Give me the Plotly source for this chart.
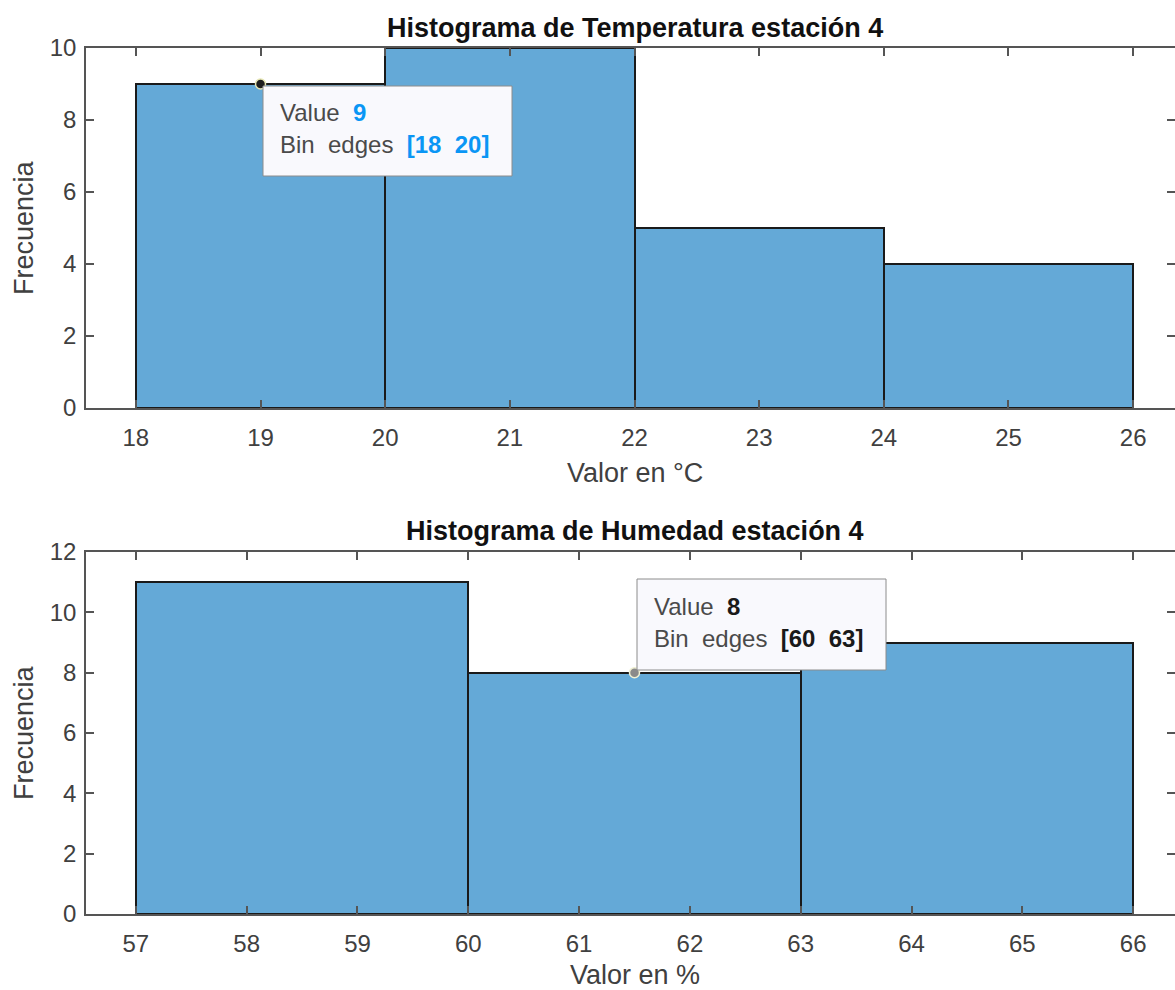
import plotly.graph_objects as go

# ---- data ----
temp_edges = [18, 20, 22, 24, 26]
temp_counts = [9, 10, 5, 4]
hum_edges = [57, 60, 63, 66]
hum_counts = [11, 8, 9]

temp_ticks = [18, 19, 20, 21, 22, 23, 24, 25, 26]
temp_yticks = [0, 2, 4, 6, 8, 10]
hum_ticks = [57, 58, 59, 60, 61, 62, 63, 64, 65, 66]
hum_yticks = [0, 2, 4, 6, 8, 10, 12]

titles = ["Histograma de Temperatura estación 4", "Histograma de Humedad estación 4"]
xlabels = ["Valor en °C", "Valor en %"]
ylabel = "Frecuencia"

# datatips: (x, y, value, edges)
tip_temp = (19, 9, 9, [18, 20])
tip_hum = (61.5, 8, 8, [60, 63])

# ---- layout constants ----
W, H = 1175, 990
FONT = "Liberation Sans, Arial, Helvetica, sans-serif"
BAR = "#64A9D7"
EDGE = "#1a1a1a"
AX = "#555555"
TXT = "#404040"


def px(x):
    return x / W


def py(y):
    return 1 - y / H


fig = go.Figure()


def centers(edges):
    return [(a + b) / 2 for a, b in zip(edges[:-1], edges[1:])]


def widths(edges):
    return [b - a for a, b in zip(edges[:-1], edges[1:])]


fig.add_trace(go.Bar(x=centers(temp_edges), y=temp_counts, width=widths(temp_edges),
                     marker=dict(color=BAR, line=dict(color=EDGE, width=2)),
                     xaxis="x", yaxis="y", showlegend=False, hoverinfo="skip"))
fig.add_trace(go.Bar(x=centers(hum_edges), y=hum_counts, width=widths(hum_edges),
                     marker=dict(color=BAR, line=dict(color=EDGE, width=2)),
                     xaxis="x2", yaxis="y2", showlegend=False, hoverinfo="skip"))

# datatip markers
fig.add_trace(go.Scatter(x=[tip_temp[0]], y=[tip_temp[1]], mode="markers",
                         marker=dict(size=10, color="#1e1e1e", line=dict(color="#e6e6b4", width=1.5)),
                         xaxis="x", yaxis="y", showlegend=False, hoverinfo="skip", cliponaxis=False))
fig.add_trace(go.Scatter(x=[tip_hum[0]], y=[tip_hum[1]], mode="markers",
                         marker=dict(size=10, color="#8a8a8a", line=dict(color="#f0f0d2", width=1.5)),
                         xaxis="x2", yaxis="y2", showlegend=False, hoverinfo="skip", cliponaxis=False))

# axes span 86 px .. 1183 px (the right edge is cut off by the window at 1175)
L, R = 86, 1183
xdom = [px(L), 1.0]


def clip_range(lo, hi):
    return [lo, lo + (hi - lo) * (W - L) / (R - L)]


common = dict(showline=True, linecolor=AX, linewidth=1.5, mirror="ticks", ticks="inside",
              ticklen=8, tickwidth=1.5, tickcolor=AX, showgrid=False, zeroline=False,
              automargin=False, tickfont=dict(family=FONT, size=24, color=TXT))

fig.update_layout(
    width=W, height=H, margin=dict(l=0, r=0, t=0, b=0, pad=0, autoexpand=False),
    paper_bgcolor="white", plot_bgcolor="white", bargap=0,
    xaxis=dict(domain=xdom, range=clip_range(17.6, 26.4), tickvals=temp_ticks, anchor="y",
               ticklabelstandoff=7, **common),
    yaxis=dict(domain=[py(408), py(48)], range=[0, 10], tickvals=temp_yticks, anchor="x",
               ticklabelstandoff=3, **common),
    xaxis2=dict(domain=xdom, range=clip_range(56.55, 66.45), tickvals=hum_ticks, anchor="y2",
                ticklabelstandoff=7, **common),
    yaxis2=dict(domain=[py(914), py(552)], range=[0, 12], tickvals=hum_yticks, anchor="x2",
                ticklabelstandoff=3, **common),
)

ann = []
# titles
for t, yc in zip(titles, [28, 531]):
    ann.append(dict(text=f"<b>{t}</b>", x=px(635), y=py(yc), xref="paper", yref="paper",
                    showarrow=False, xanchor="center", yanchor="middle",
                    font=dict(family=FONT, size=27, color="#111111")))
# x labels
for t, yc in zip(xlabels, [473, 975]):
    ann.append(dict(text=t, x=px(635), y=py(yc), xref="paper", yref="paper",
                    showarrow=False, xanchor="center", yanchor="middle",
                    font=dict(family=FONT, size=27, color=TXT)))
# y labels
for yc in [228, 733]:
    ann.append(dict(text=ylabel, x=px(24), y=py(yc), xref="paper", yref="paper",
                    showarrow=False, xanchor="center", yanchor="middle", textangle=-90,
                    font=dict(family=FONT, size=27, color=TXT)))

shapes = []
sp = "&#160;&#160;"


def datatip(box, tip, valcolor):
    x0, y0, x1, y1 = box
    shapes.append(dict(type="rect", xref="paper", yref="paper", x0=px(x0), x1=px(x1),
                       y0=py(y1), y1=py(y0), fillcolor="#f9f9fd",
                       line=dict(color="#8c8c8c", width=1), layer="above"))
    val = tip[2]
    e = tip[3]
    line1 = f"Value{sp}<b><span style='color:{valcolor}'>{val}</span></b>"
    line2 = f"Bin{sp}edges{sp}<b><span style='color:{valcolor}'>[{e[0]}{sp}{e[1]}]</span></b>"
    for t, yc in [(line1, y0 + 27), (line2, y0 + 59)]:
        ann.append(dict(text=t, x=px(x0 + 15), y=py(yc), xref="paper", yref="paper",
                        showarrow=False, xanchor="left", yanchor="middle",
                        font=dict(family=FONT, size=24, color="#4a4a4a")))


datatip((263, 86, 512, 176), tip_temp, "#0a96f5")
datatip((637, 579, 886, 670), tip_hum, "#1a1a1a")

fig.update_layout(annotations=ann, shapes=shapes)

fig.write_html("out.html", config=dict(displayModeBar=False),
               post_script="document.body.style.margin='0';document.body.style.overflow='hidden';")
